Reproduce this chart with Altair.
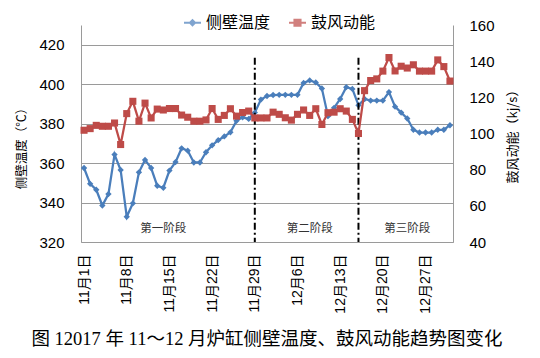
import altair as alt
import pandas as pd

# ---------------- data ----------------
dates = [f"11月{d}日" for d in range(1, 31)] + [f"12月{d}日" for d in range(1, 32)]

temp = [357.5, 349.5, 346.5, 338.5, 344.3, 364.3, 356.5, 332.8, 339.6, 355.3,
        361.6, 357.5, 348.5, 347.5, 356.2, 360.5, 367.5, 366.3, 360.3, 360.3,
        365.5, 369.0, 371.6, 373.5, 375.6, 381.4, 383.2, 382.4, 385.6, 392.2,
        394.0, 394.5, 394.6, 394.6, 394.6, 394.6, 400.6, 401.9, 400.9, 397.8,
        383.8, 388.0, 392.5, 398.5, 397.6, 389.3, 392.5, 391.7, 391.7, 391.7,
        396.0, 388.6, 385.6, 382.6, 376.9, 375.5, 375.5, 375.5, 376.9, 376.9,
        379.2]

blow = [101.8, 102.7, 104.5, 104.0, 104.0, 105.8, 93.9, 111.0, 117.8, 106.8,
        116.8, 108.6, 113.5, 113.0, 113.8, 113.8, 110.2, 109.0, 106.8, 106.8,
        107.5, 113.8, 107.8, 110.0, 113.7, 109.6, 111.6, 112.4, 108.6, 108.6,
        108.6, 111.8, 110.6, 108.7, 107.4, 110.6, 113.0, 110.0, 113.7, 105.0,
        111.5, 111.8, 113.7, 112.4, 107.8, 100.0, 123.7, 129.3, 130.2, 134.5,
        142.0, 134.6, 137.2, 136.2, 138.0, 134.5, 134.5, 134.5, 140.7, 137.0,
        129.0]

tick_labels = ["11月1日", "11月8日", "11月15日", "11月22日", "11月29日",
               "12月6日", "12月13日", "12月20日", "12月27日"]
left_ticks = [320, 340, 360, 380, 400, 420]
right_ticks = [40, 60, 80, 100, 120, 140, 160]

series_names = ["侧壁温度", "鼓风动能"]
series_colors = ["#4A7EBB", "#BE4B48"]

phase_names = ["第一阶段", "第二阶段", "第三阶段"]
phase_dates = ["11月14日", "12月8日", "12月24日"]
phase_level = [326.6, 326.6, 326.6]

divider_dates = ["11月29日", "12月16日"]
divider_top = [413.4, 413.4]
divider_bottom = [320, 320]

caption = "图 12017 年 11～12 月炉缸侧壁温度、鼓风动能趋势图变化"

# ---------------- tables ----------------
df = pd.DataFrame({"date": dates, "temp": temp, "blow": blow})
phase_df = pd.DataFrame({"date": phase_dates, "name": phase_names, "lvl": phase_level})
div_df = pd.DataFrame({"date": divider_dates, "top": divider_top, "bot": divider_bottom})
legend_df = pd.DataFrame({"series": series_names})

W, H = 372, 217
GRAY = "#9a9a9a"
CJK = "Noto Sans CJK SC"
NUM = "Liberation Sans, Noto Sans CJK SC"

x_enc = alt.X("date:N", sort=None,
              scale=alt.Scale(type="point", domain=dates, padding=0.5),
              axis=alt.Axis(values=tick_labels, labelAngle=270, labelFont=NUM,
                            labelFontSize=14, labelColor="#000000", labelPadding=12,
                            labelOverlap=False, ticks=False, domainColor=GRAY,
                            grid=False, title=None))

left_scale = alt.Scale(domain=[320, 430], nice=False, zero=False)
right_scale = alt.Scale(domain=[40, 160], nice=False, zero=False)

left_axis = alt.Axis(values=left_ticks, title="侧壁温度（℃）", titleFont=CJK,
                     titleFontSize=12.5, titleFontWeight="normal", titleColor="#000000",
                     titleAngle=270, titleX=-60, titleY=120, titleAlign="center",
                     titleBaseline="middle",
                     labelFont=NUM, labelFontSize=15, labelColor="#000000",
                     labelPadding=17, ticks=False, domainColor=GRAY,
                     grid=True, gridColor=GRAY, gridWidth=1)

right_axis = alt.Axis(orient="right", values=right_ticks, title="鼓风动能（kj/s）",
                      titleFont=CJK, titleFontSize=13, titleFontWeight="normal",
                      titleColor="#000000", titleAngle=270, titleX=59, titleY=108,
                      titleAlign="center", titleBaseline="middle",
                      labelFont=NUM, labelFontSize=15, labelColor="#000000",
                      labelPadding=16, ticks=False, domainColor=GRAY, grid=False)

blue_line = alt.Chart(df).mark_line(
    color=series_colors[0], strokeWidth=2.25,
    point=alt.OverlayMarkDef(shape="diamond", size=40, filled=True, color=series_colors[0])
).encode(x=x_enc, y=alt.Y("temp:Q", scale=left_scale, axis=left_axis))

rules = alt.Chart(div_df).mark_rule(color="#000000", strokeWidth=2,
                                   strokeDash=[7, 3, 2, 3]).encode(
    x=alt.X("date:N", sort=None),
    y=alt.Y("top:Q"), y2="bot:Q")

phase_text = alt.Chart(phase_df).mark_text(font=CJK, fontSize=11.5, color="#333333").encode(
    x=alt.X("date:N", sort=None), y=alt.Y("lvl:Q"), text="name:N")

diamond_path = "M-1,0H1M-0.3,0L0,-0.3L0.3,0L0,0.3ZM-0.12,0L0,-0.12L0.12,0L0,0.12Z"
square_path = "M-1,0H1M-0.36,-0.36H0.36V0.36H-0.36ZM-0.17,-0.17H0.17V0.17H-0.17Z"

legend_layer = alt.Chart(legend_df).transform_filter("false").mark_point(
    filled=False, strokeWidth=2).encode(
    color=alt.Color("series:N", scale=alt.Scale(domain=series_names, range=series_colors),
                    title=None),
    shape=alt.Shape("series:N", scale=alt.Scale(domain=series_names,
                                                range=[diamond_path, square_path]),
                    title=None))

left_group = alt.layer(blue_line, rules, phase_text, legend_layer)

red_line = alt.Chart(df).mark_line(
    color=series_colors[1], strokeWidth=2.25,
    point=alt.OverlayMarkDef(shape="square", size=50, filled=True, color=series_colors[1])
).encode(x=x_enc, y=alt.Y("blow:Q", scale=right_scale, axis=right_axis))

chart = alt.layer(left_group, red_line).resolve_scale(y="independent").properties(
    width=W, height=H,
    autosize=alt.AutoSizeParams(type="none"),
    padding={"left": 73, "top": 17, "right": 79, "bottom": 108},
    title=alt.Title(caption, orient="bottom", anchor="middle", fontSize=18.5,
                    font="Liberation Serif, Noto Sans CJK SC", fontWeight="normal",
                    color="#000000", offset=17)
).configure_view(stroke=None).configure_legend(
    orient="none", legendX=102, legendY=-12, direction="horizontal", padding=0,
    labelFont=CJK, labelFontSize=16, labelColor="#000000", labelOffset=4,
    symbolSize=289, symbolStrokeWidth=2, columnPadding=14, titlePadding=0
)

chart.save("out.html", embed_options={"renderer": "svg", "actions": False})
